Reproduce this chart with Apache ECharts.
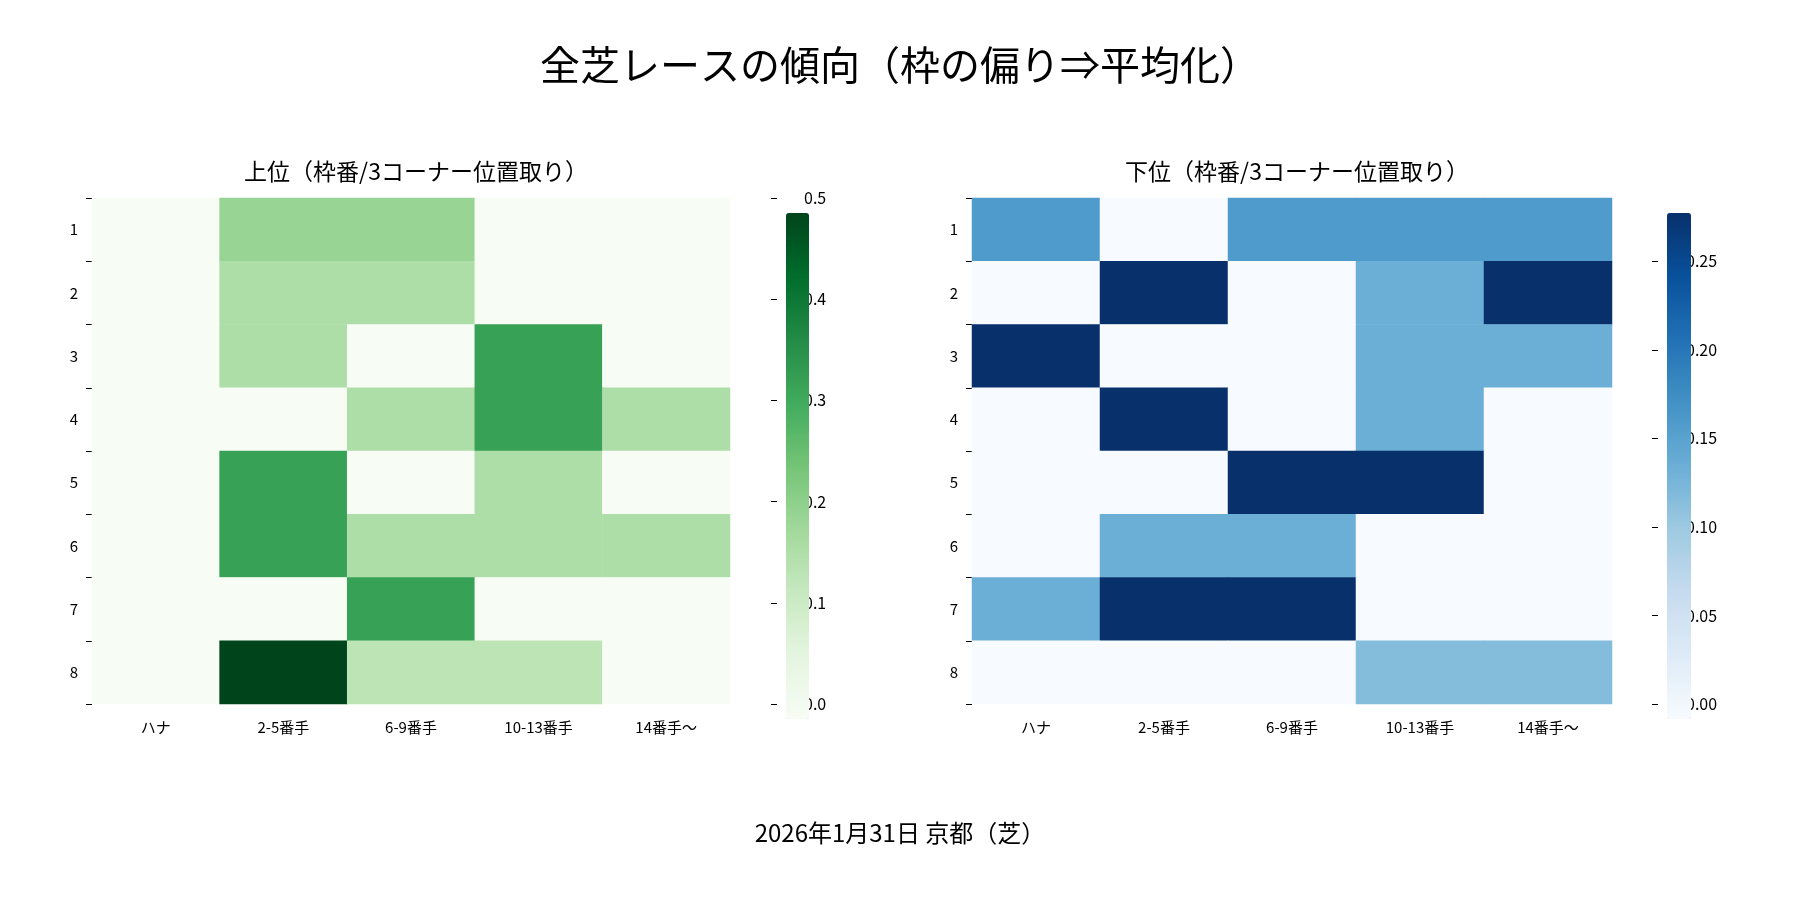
<!DOCTYPE html>
<html><head><meta charset="utf-8">
<script src="https://cdn.jsdelivr.net/npm/echarts@6/dist/echarts.min.js"></script>
<style>body{margin:0}#c{width:1800px;height:900px}</style></head>
<body><div id="c"></div>
<script>
var cols = ['ハナ', '2-5番手', '6-9番手', '10-13番手', '14番手〜'];
var rows = ['1', '2', '3', '4', '5', '6', '7', '8'];
var upper = [
  [0, 0.2, 0.2, 0, 0],
  [0, 0.167, 0.167, 0, 0],
  [0, 0.167, 0, 0.333, 0],
  [0, 0, 0.167, 0.333, 0.167],
  [0, 0.333, 0, 0.167, 0],
  [0, 0.333, 0.167, 0.167, 0.167],
  [0, 0, 0.333, 0, 0],
  [0, 0.5, 0.143, 0.143, 0]
];
var lower = [
  [0.167, 0, 0.167, 0.167, 0.167],
  [0, 0.286, 0, 0.143, 0.286],
  [0.286, 0, 0, 0.143, 0.143],
  [0, 0.286, 0, 0.143, 0],
  [0, 0, 0.286, 0.286, 0],
  [0, 0.143, 0.143, 0, 0],
  [0.143, 0.286, 0.286, 0, 0],
  [0, 0, 0, 0.125, 0.125]
];
var upperTicks = [0, 0.1, 0.2, 0.3, 0.4, 0.5];
var lowerTicks = [0, 0.05, 0.1, 0.15, 0.2, 0.25];
var lowerMax = 0.2857;

var greens = ['#f7fcf5','#e5f5e0','#c7e9c0','#a1d99b','#74c476','#41ab5d','#238b45','#006d2c','#00441b'];
var blues = ['#f7fbff','#deebf7','#c6dbef','#9ecae1','#6baed6','#4292c6','#2171b5','#08519c','#08306b'];
var font = '"Noto Sans CJK JP", sans-serif';

function cells(m) {
  var out = [];
  m.forEach(function (r, i) { r.forEach(function (v, j) { out.push([j, i, v]); }); });
  return out;
}
function catX(g) {
  return { type: 'category', gridIndex: g, data: cols, position: 'bottom',
    axisLine: {show: false}, axisTick: {show: false}, splitLine: {show: false},
    axisLabel: {fontSize: 15, color: '#000', margin: 16, fontFamily: font} };
}
function catY(g) {
  return { type: 'category', gridIndex: g, data: rows, inverse: true,
    axisLine: {show: false}, axisTick: {show: true, length: 6, lineStyle: {color: '#000'}},
    splitLine: {show: false},
    axisLabel: {fontSize: 15, color: '#000', margin: 14, fontFamily: font} };
}
function barX(g) {
  return { type: 'value', gridIndex: g, show: false, min: 0, max: 1 };
}
function barY(g, max, interval, dec) {
  return { type: 'value', gridIndex: g, position: 'right', min: 0, max: max, interval: interval,
    axisLine: {show: false}, splitLine: {show: false},
    axisTick: {show: true, length: 6, lineStyle: {color: '#000'}},
    axisLabel: {fontSize: 16, color: '#000', margin: 10, fontFamily: font,
      formatter: function (v) { return v.toFixed(dec); }, showMaxLabel: max === 0.5 } };
}

var chart = echarts.init(document.getElementById('c'));
chart.setOption({
  backgroundColor: '#fff',
  animation: false,
  title: [
    {text: '全芝レースの傾向（枠の偏り⇒平均化）', left: 'center', top: 40,
      textStyle: {fontSize: 40, fontWeight: 'normal', color: '#000', fontFamily: font}},
    {text: '上位（枠番/3コーナー位置取り）', left: 411, top: 155, textAlign: 'center',
      textStyle: {fontSize: 23, fontWeight: 'normal', color: '#000', fontFamily: font}},
    {text: '下位（枠番/3コーナー位置取り）', left: 1292, top: 155, textAlign: 'center',
      textStyle: {fontSize: 23, fontWeight: 'normal', color: '#000', fontFamily: font}},
    {text: '2026年1月31日 京都（芝）', left: 'center', top: 816,
      textStyle: {fontSize: 24, fontWeight: 'normal', color: '#000', fontFamily: font}}
  ],
  grid: [
    {left: 92, top: 198, width: 638, height: 506},
    {left: 972, top: 198, width: 640, height: 506},
    {left: 771, top: 198, width: 23, height: 506},
    {left: 1652, top: 198, width: 24, height: 506}
  ],
  xAxis: [catX(0), catX(1), barX(2), barX(3)],
  yAxis: [catY(0), catY(1), barY(2, 0.5, 0.1, 1), barY(3, lowerMax, 0.05, 2)],
  visualMap: [
    {type: 'continuous', min: 0, max: 0.5, seriesIndex: 0, show: true, calculable: false,
      left: 771, top: 198, itemWidth: 23, itemHeight: 506, text: ['', ''], showLabel: false,
      inRange: {color: greens}},
    {type: 'continuous', min: 0, max: lowerMax, seriesIndex: 1, show: true, calculable: false,
      left: 1652, top: 198, itemWidth: 24, itemHeight: 506, text: ['', ''], showLabel: false,
      inRange: {color: blues}}
  ],
  series: [
    {type: 'heatmap', xAxisIndex: 0, yAxisIndex: 0, data: cells(upper), silent: true},
    {type: 'heatmap', xAxisIndex: 1, yAxisIndex: 1, data: cells(lower), silent: true}
  ]
});
</script></body></html>
